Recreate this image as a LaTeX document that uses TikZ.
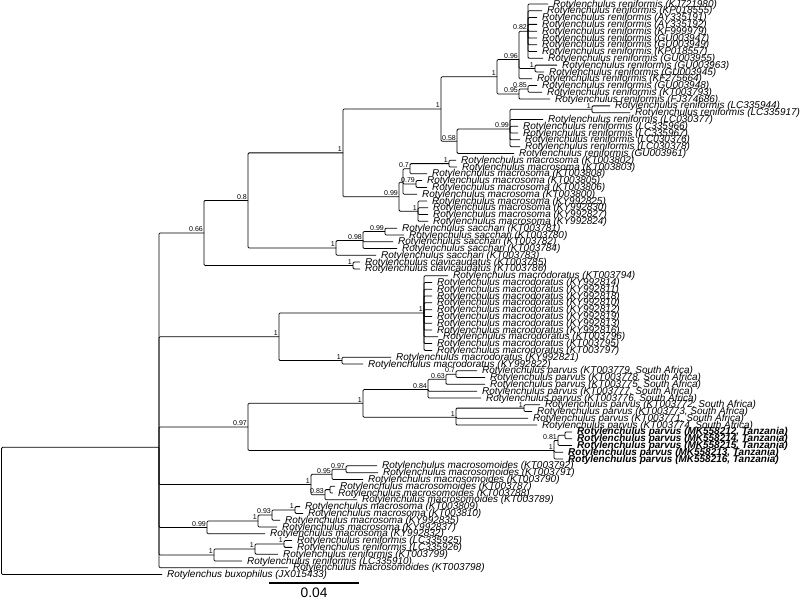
\documentclass[tikz,border=0pt]{standalone}
\usepackage{fontspec}
\setmainfont{Liberation Sans}
\begin{document}
\begin{tikzpicture}[x=0.025cm,y=-0.16975cm,
    taxon/.style={anchor=west,inner xsep=3.5pt,inner ysep=0pt,
        text height=4.4pt,text depth=0pt,
        font=\fontsize{7.1}{8}\selectfont\itshape},
    newtaxon/.style={taxon,font=\fontsize{7.1}{8}\selectfont\bfseries\itshape},
    support/.style={anchor=south east,inner sep=0.6pt,
        font=\fontsize{5}{6}\selectfont}]
    \useasboundingbox (0,-0.589) rectangle (800,87.77);

    % Taxa (one row each)
    \node[taxon] (l0) at (548,0) {Rotylenchulus reniformis (KJ721980)};
    \node[taxon] (l1) at (542,1) {Rotylenchulus reniformis (KP018555)};
    \node[taxon] (l2) at (537,2) {Rotylenchulus reniformis (AY335191)};
    \node[taxon] (l3) at (537,3) {Rotylenchulus reniformis (AY335192)};
    \node[taxon] (l4) at (537,4) {Rotylenchulus reniformis (KF999979)};
    \node[taxon] (l5) at (537,5) {Rotylenchulus reniformis (GU003947)};
    \node[taxon] (l6) at (537,6) {Rotylenchulus reniformis (GU003949)};
    \node[taxon] (l7) at (537,7) {Rotylenchulus reniformis (KP018557)};
    \node[taxon] (l8) at (543,8) {Rotylenchulus reniformis (GU003955)};
    \node[taxon] (l9) at (557,9) {Rotylenchulus reniformis (GU003963)};
    \node[taxon] (l10) at (544,10) {Rotylenchulus reniformis (GU003945)};
    \node[taxon] (l11) at (532,11) {Rotylenchulus reniformis (KF275664)};
    \node[taxon] (l12) at (537,12) {Rotylenchulus reniformis (GU003948)};
    \node[taxon] (l13) at (542,13) {Rotylenchulus reniformis (KT003793)};
    \node[taxon] (l14) at (550,14) {Rotylenchulus reniformis (FJ374686)};
    \node[taxon] (l15) at (610,15) {Rotylenchulus reniformis (LC335944)};
    \node[taxon] (l16) at (630,16) {Rotylenchulus reniformis (LC335917)};
    \node[taxon] (l17) at (543,17) {Rotylenchulus reniformis (LC030377)};
    \node[taxon] (l18) at (518,18) {Rotylenchulus reniformis (LC335966)};
    \node[taxon] (l19) at (518,19) {Rotylenchulus reniformis (LC335967)};
    \node[taxon] (l20) at (520,20) {Rotylenchulus reniformis (LC030376)};
    \node[taxon] (l21) at (520,21) {Rotylenchulus reniformis (LC030378)};
    \node[taxon] (l22) at (514,22) {Rotylenchulus reniformis (GU003961)};
    \node[taxon] (l23) at (456,23) {Rotylenchulus macrosoma (KT003802)};
    \node[taxon] (l24) at (457,24) {Rotylenchulus macrosoma (KT003803)};
    \node[taxon] (l25) at (427,25) {Rotylenchulus macrosoma (KT003808)};
    \node[taxon] (l26) at (422,26) {Rotylenchulus macrosoma (KT003805)};
    \node[taxon] (l27) at (427,27) {Rotylenchulus macrosoma (KT003806)};
    \node[taxon] (l28) at (417,28) {Rotylenchulus macrosoma (KT003800)};
    \node[taxon] (l29) at (427,29) {Rotylenchulus macrosoma (KY992825)};
    \node[taxon] (l30) at (428,30) {Rotylenchulus macrosoma (KY992830)};
    \node[taxon] (l31) at (428,31) {Rotylenchulus macrosoma (KY992827)};
    \node[taxon] (l32) at (428,32) {Rotylenchulus macrosoma (KY992824)};
    \node[taxon] (l33) at (397,33) {Rotylenchulus sacchari (KT003781)};
    \node[taxon] (l34) at (404,34) {Rotylenchulus sacchari (KT003780)};
    \node[taxon] (l35) at (393,35) {Rotylenchulus sacchari (KT003782)};
    \node[taxon] (l36) at (397,36) {Rotylenchulus sacchari (KT003784)};
    \node[taxon] (l37) at (376,37) {Rotylenchulus sacchari (KT003783)};
    \node[taxon] (l38) at (360,38) {Rotylenchulus clavicaudatus (KT003785)};
    \node[taxon] (l39) at (360,39) {Rotylenchulus clavicaudatus (KT003786)};
    \node[taxon] (l40) at (448,40) {Rotylenchulus macrodoratus (KT003794)};
    \node[taxon] (l41) at (432,41) {Rotylenchulus macrodoratus (KY992814)};
    \node[taxon] (l42) at (432,42) {Rotylenchulus macrodoratus (KY992811)};
    \node[taxon] (l43) at (432,43) {Rotylenchulus macrodoratus (KY992818)};
    \node[taxon] (l44) at (432,44) {Rotylenchulus macrodoratus (KY992810)};
    \node[taxon] (l45) at (432,45) {Rotylenchulus macrodoratus (KY992812)};
    \node[taxon] (l46) at (432,46) {Rotylenchulus macrodoratus (KY992819)};
    \node[taxon] (l47) at (432,47) {Rotylenchulus macrodoratus (KY992813)};
    \node[taxon] (l48) at (432,48) {Rotylenchulus macrodoratus (KY992816)};
    \node[taxon] (l49) at (438,49) {Rotylenchulus macrodoratus (KT003796)};
    \node[taxon] (l50) at (432,50) {Rotylenchulus macrodoratus (KT003795)};
    \node[taxon] (l51) at (432,51) {Rotylenchulus macrodoratus (KT003797)};
    \node[taxon] (l52) at (391,52) {Rotylenchulus macrodoratus (KY992821)};
    \node[taxon] (l53) at (363,53) {Rotylenchulus macrodoratus (KY992822)};
    \node[taxon] (l54) at (477,54) {Rotylenchulus parvus (KT003779, South Africa)};
    \node[taxon] (l55) at (485,55) {Rotylenchulus parvus (KT003778, South Africa)};
    \node[taxon] (l56) at (485,56) {Rotylenchulus parvus (KT003775, South Africa)};
    \node[taxon] (l57) at (477,57) {Rotylenchulus parvus (KT003777, South Africa)};
    \node[taxon] (l58) at (481,58) {Rotylenchulus parvus (KT003776, South Africa)};
    \node[taxon] (l59) at (540,59) {Rotylenchulus parvus (KT003772, South Africa)};
    \node[taxon] (l60) at (532,60) {Rotylenchulus parvus (KT003773, South Africa)};
    \node[taxon] (l61) at (528,61) {Rotylenchulus parvus (KT003771, South Africa)};
    \node[taxon] (l62) at (537,62) {Rotylenchulus parvus (KT003774, South Africa)};
    \node[newtaxon] (l63) at (572,63) {Rotylenchulus parvus (MK558212, Tanzania)};
    \node[newtaxon] (l64) at (572,64) {Rotylenchulus parvus (MK558214, Tanzania)};
    \node[newtaxon] (l65) at (572,65) {Rotylenchulus parvus (MK558215, Tanzania)};
    \node[newtaxon] (l66) at (563,66) {Rotylenchulus parvus (MK558213, Tanzania)};
    \node[newtaxon] (l67) at (563,67) {Rotylenchulus parvus (MK558216, Tanzania)};
    \node[taxon] (l68) at (377,68) {Rotylenchulus macrosomoides (KT003792)};
    \node[taxon] (l69) at (378,69) {Rotylenchulus macrosomoides (KT003791)};
    \node[taxon] (l70) at (363,70) {Rotylenchulus macrosomoides (KT003790)};
    \node[taxon] (l71) at (335,71) {Rotylenchulus macrosomoides (KT003787)};
    \node[taxon] (l72) at (333,72) {Rotylenchulus macrosomoides (KT003788)};
    \node[taxon] (l73) at (357,73) {Rotylenchulus macrosomoides (KT003789)};
    \node[taxon] (l74) at (300,74) {Rotylenchulus macrosoma (KT003809)};
    \node[taxon] (l75) at (303,75) {Rotylenchulus macrosoma (KT003810)};
    \node[taxon] (l76) at (280,76) {Rotylenchulus macrosoma (KY992835)};
    \node[taxon] (l77) at (277,77) {Rotylenchulus macrosoma (KY992837)};
    \node[taxon] (l78) at (265,78) {Rotylenchulus macrosoma (KY992832)};
    \node[taxon] (l79) at (292,79) {Rotylenchulus reniformis (LC335925)};
    \node[taxon] (l80) at (292,80) {Rotylenchulus reniformis (LC335926)};
    \node[taxon] (l81) at (278,81) {Rotylenchulus reniformis (KT003799)};
    \node[taxon] (l82) at (242,82) {Rotylenchulus reniformis (LC335910)};
    \node[taxon] (l83) at (288,83) {Rotylenchulus macrosomoides (KT003798)};
    \node[taxon] (l84) at (162,84) {Rotylenchus buxophilus (JX015433)};

    % Internal nodes
    \coordinate (root) at (1.5,74.64);
    \coordinate (IG) at (159,65.274);
    \coordinate (A) at (204,33.708);
    \coordinate (A1) at (248,28.917);
    \coordinate (X) at (343,21.917);
    \coordinate (R) at (441,15.458);
    \coordinate (R1) at (497,10.708);
    \coordinate (R096) at (519,8.1667);
    \coordinate (R082) at (528,4);
    \coordinate (Rg1) at (535,9.5);
    \coordinate (R095) at (519,13.25);
    \coordinate (R085) at (528,12.5);
    \coordinate (R058) at (457,20.208);
    \coordinate (R099) at (510,18.417);
    \coordinate (Rl1) at (592,15.5);
    \coordinate (M) at (399,28.375);
    \coordinate (N) at (403,26.25);
    \coordinate (M07) at (410,24.25);
    \coordinate (Ma) at (449,23.5);
    \coordinate (M079) at (416,26.5);
    \coordinate (MKY) at (418,30.5);
    \coordinate (S) at (336,35.917);
    \coordinate (S098) at (363,34.833);
    \coordinate (S099) at (385,33.5);
    \coordinate (C2) at (353,38.5);
    \coordinate (B) at (279,49);
    \coordinate (B1) at (424,45.5);
    \coordinate (B2) at (342,52.5);
    \coordinate (C) at (248,62.271);
    \coordinate (P) at (363,58.792);
    \coordinate (P084) at (428,56.75);
    \coordinate (P063) at (446,55.25);
    \coordinate (P07) at (456,54.5);
    \coordinate (Q) at (456,60.833);
    \coordinate (Q1) at (524,59.5);
    \coordinate (T) at (554,65.75);
    \coordinate (T081) at (558,64.25);
    \coordinate (T1) at (565,63.5);
    \coordinate (D) at (311,70.75);
    \coordinate (D095) at (332,69.25);
    \coordinate (D097) at (346,68.5);
    \coordinate (D083) at (325,72.25);
    \coordinate (D1) at (330,71.5);
    \coordinate (E) at (207,77.0625);
    \coordinate (Y) at (258,76.125);
    \coordinate (E093) at (272,75.25);
    \coordinate (E1) at (295,74.5);
    \coordinate (F) at (214,81.125);
    \coordinate (Z2) at (255,80.25);
    \coordinate (Z1) at (284,79.5);

    \begin{scope}[line width=0.55pt,rounded corners=0.8pt]
    % Root and ingroup
    \draw (root) |- (IG);
    \draw (root) |- (l84);
    \draw (IG) |- (A);
    \draw (IG) |- (B);
    \draw (IG) |- (C);
    \draw (IG) |- (D);
    \draw (IG) |- (E);
    \draw (IG) |- (F);
    \draw (IG) |- (l83);

    % Reniformis, macrosoma, sacchari, clavicaudatus
    \draw (A) |- (A1);
    \draw (A) |- (C2);
    \draw (A1) |- (X);
    \draw (A1) |- (S);
    \draw (X) |- (R);
    \draw (X) |- (M);
    \draw (R) |- (R1);
    \draw (R) |- (R058);
    \draw (R1) |- (R096);
    \draw (R1) |- (R095);
    \draw (R096) |- (R082);
    \draw (R096) |- (Rg1);
    \draw (R096) |- (l11);
    \draw (R082) |- (l0);
    \draw (R082) |- (l1);
    \draw (R082) |- (l2);
    \draw (R082) |- (l3);
    \draw (R082) |- (l4);
    \draw (R082) |- (l5);
    \draw (R082) |- (l6);
    \draw (R082) |- (l7);
    \draw (R082) |- (l8);
    \draw (Rg1) |- (l9);
    \draw (Rg1) |- (l10);
    \draw (R095) |- (R085);
    \draw (R095) |- (l14);
    \draw (R085) |- (l12);
    \draw (R085) |- (l13);
    \draw (R058) |- (R099);
    \draw (R058) |- (l22);
    \draw (R099) |- (Rl1);
    \draw (R099) |- (l17);
    \draw (R099) |- (l18);
    \draw (R099) |- (l19);
    \draw (R099) |- (l20);
    \draw (R099) |- (l21);
    \draw (Rl1) |- (l15);
    \draw (Rl1) |- (l16);
    \draw (M) |- (N);
    \draw (M) |- (MKY);
    \draw (N) |- (M07);
    \draw (N) |- (M079);
    \draw (N) |- (l28);
    \draw (M07) |- (Ma);
    \draw (M07) |- (l25);
    \draw (Ma) |- (l23);
    \draw (Ma) |- (l24);
    \draw (M079) |- (l26);
    \draw (M079) |- (l27);
    \draw (MKY) |- (l29);
    \draw (MKY) |- (l30);
    \draw (MKY) |- (l31);
    \draw (MKY) |- (l32);
    \draw (S) |- (S098);
    \draw (S) |- (l37);
    \draw (S098) |- (S099);
    \draw (S098) |- (l35);
    \draw (S098) |- (l36);
    \draw (S099) |- (l33);
    \draw (S099) |- (l34);
    \draw (C2) |- (l38);
    \draw (C2) |- (l39);

    % Macrodoratus
    \draw (B) |- (B1);
    \draw (B) |- (B2);
    \draw (B1) |- (l40);
    \draw (B1) |- (l41);
    \draw (B1) |- (l42);
    \draw (B1) |- (l43);
    \draw (B1) |- (l44);
    \draw (B1) |- (l45);
    \draw (B1) |- (l46);
    \draw (B1) |- (l47);
    \draw (B1) |- (l48);
    \draw (B1) |- (l49);
    \draw (B1) |- (l50);
    \draw (B1) |- (l51);
    \draw (B2) |- (l52);
    \draw (B2) |- (l53);

    % Parvus
    \draw (C) |- (P);
    \draw (C) |- (T);
    \draw (P) |- (P084);
    \draw (P) |- (Q);
    \draw (P084) |- (P063);
    \draw (P084) |- (l57);
    \draw (P084) |- (l58);
    \draw (P063) |- (P07);
    \draw (P063) |- (l56);
    \draw (P07) |- (l54);
    \draw (P07) |- (l55);
    \draw (Q) |- (Q1);
    \draw (Q) |- (l61);
    \draw (Q) |- (l62);
    \draw (Q1) |- (l59);
    \draw (Q1) |- (l60);
    \draw (T) |- (T081);
    \draw (T) |- (l66);
    \draw (T) |- (l67);
    \draw (T081) |- (T1);
    \draw (T081) |- (l65);
    \draw (T1) |- (l63);
    \draw (T1) |- (l64);

    % Macrosomoides, macrosoma, reniformis (lower)
    \draw (D) |- (D095);
    \draw (D) |- (D083);
    \draw (D095) |- (D097);
    \draw (D095) |- (l70);
    \draw (D097) |- (l68);
    \draw (D097) |- (l69);
    \draw (D083) |- (D1);
    \draw (D083) |- (l73);
    \draw (D1) |- (l71);
    \draw (D1) |- (l72);
    \draw (E) |- (Y);
    \draw (E) |- (l78);
    \draw (Y) |- (E093);
    \draw (Y) |- (l77);
    \draw (E093) |- (E1);
    \draw (E093) |- (l76);
    \draw (E1) |- (l74);
    \draw (E1) |- (l75);
    \draw (F) |- (Z2);
    \draw (F) |- (l82);
    \draw (Z2) |- (Z1);
    \draw (Z2) |- (l81);
    \draw (Z1) |- (l79);
    \draw (Z1) |- (l80);
    \end{scope}

    % Support values
    \node[support] at (A) {0.66};
    \node[support] at (A1) {0.8};
    \node[support] at (X) {1};
    \node[support] at (R) {1};
    \node[support] at (R1) {1};
    \node[support] at (R096) {0.96};
    \node[support] at (R082) {0.82};
    \node[support] at (Rg1) {1};
    \node[support] at (R095) {0.95};
    \node[support] at (R085) {0.85};
    \node[support] at (R058) {0.58};
    \node[support] at (R099) {0.99};
    \node[support] at (Rl1) {1};
    \node[support] at (M) {0.99};
    \node[support] at (M07) {0.7};
    \node[support] at (Ma) {1};
    \node[support] at (M079) {0.79};
    \node[support] at (MKY) {1};
    \node[support] at (S) {1};
    \node[support] at (S098) {0.98};
    \node[support] at (S099) {0.99};
    \node[support] at (C2) {1};
    \node[support] at (B) {1};
    \node[support] at (B1) {1};
    \node[support] at (B2) {1};
    \node[support] at (C) {0.97};
    \node[support] at (P) {1};
    \node[support] at (P084) {0.84};
    \node[support] at (P063) {0.63};
    \node[support] at (P07) {0.7};
    \node[support] at (Q) {1};
    \node[support] at (Q1) {1};
    \node[support] at (T) {1};
    \node[support] at (T081) {0.81};
    \node[support] at (D) {1};
    \node[support] at (D095) {0.95};
    \node[support] at (D097) {0.97};
    \node[support] at (D083) {0.83};
    \node[support] at (E) {0.99};
    \node[support] at (Y) {1};
    \node[support] at (E093) {0.93};
    \node[support] at (E1) {1};
    \node[support] at (F) {1};
    \node[support] at (Z2) {1};
    \node[support] at (Z1) {1};

    % Scale bar
    \coordinate (bar0) at (269,85.27);
    \coordinate (bar1) at (359,85.27);
    \draw[line width=1.8pt] (bar0) -- (bar1);
    \node[inner sep=0pt,font=\fontsize{9.8}{11}\selectfont] (barlabel) at (314,86.74) {0.04};
\end{tikzpicture}
\end{document}
